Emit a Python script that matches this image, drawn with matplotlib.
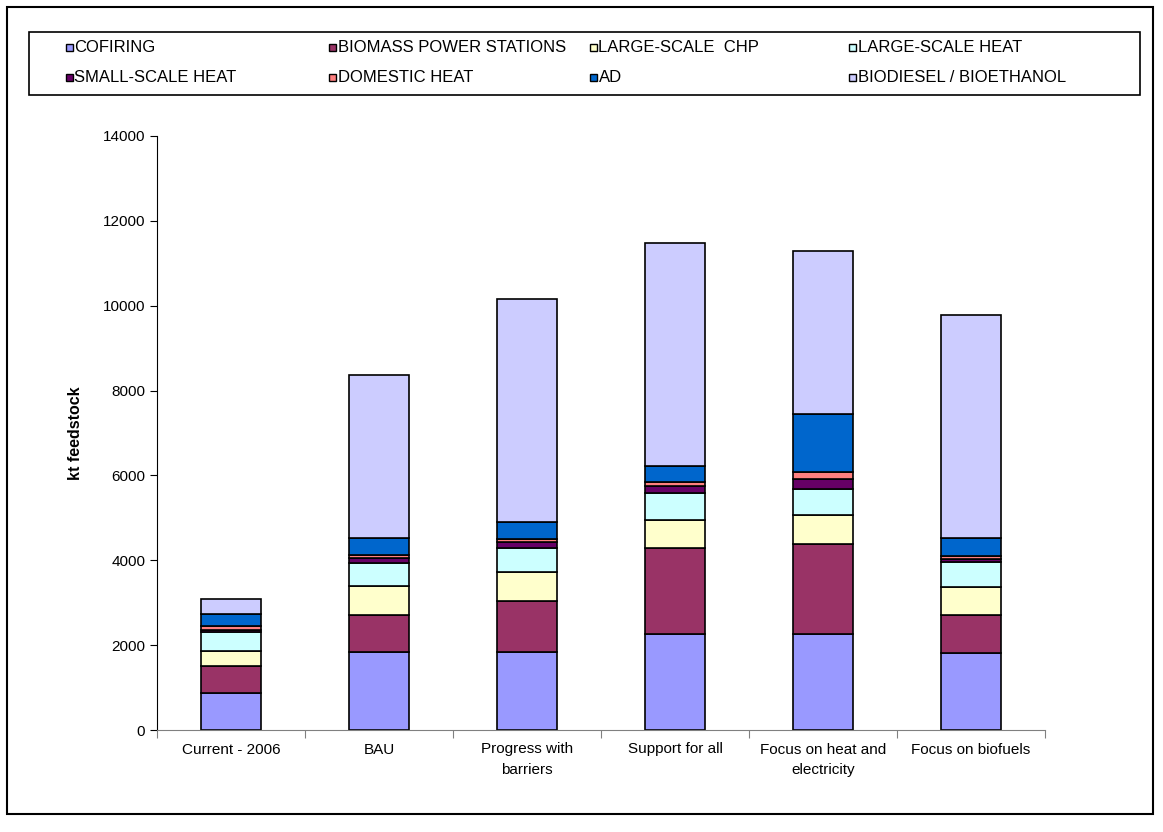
import numpy as np
import matplotlib.pyplot as plt
from matplotlib.patches import Rectangle

plt.rcParams['font.family'] = ['Liberation Sans', 'DejaVu Sans']

# scenarios on the x axis
scenarios = ["Current - 2006", "BAU", "Progress with\nbarriers", "Support for all",
             "Focus on heat and\nelectricity", "Focus on biofuels"]

# kt feedstock per technology, one value per scenario
cofiring = [882, 1827, 1850, 2255, 2255, 1820]
biomass_power = [631, 884, 1200, 2025, 2135, 891]
large_chp = [347, 677, 670, 660, 675, 670]
large_heat = [457, 553, 575, 650, 625, 583]
small_heat = [47, 102, 125, 150, 230, 55]
domestic_heat = [78, 70, 80, 110, 150, 78]
ad = [300, 402, 410, 370, 1375, 418]
biofuels = [348, 3860, 5255, 5255, 3850, 5255]

series_names = ["COFIRING", "BIOMASS POWER STATIONS", "LARGE-SCALE  CHP", "LARGE-SCALE HEAT",
                "SMALL-SCALE HEAT", "DOMESTIC HEAT", "AD", "BIODIESEL / BIOETHANOL"]
series = [cofiring, biomass_power, large_chp, large_heat,
          small_heat, domestic_heat, ad, biofuels]
colors = ["#9999FF", "#993366", "#FFFFCC", "#CCFFFF",
          "#660066", "#FF8080", "#0066CC", "#CCCCFF"]

W, H = 1163, 832
fig = plt.figure(figsize=(W/100, H/100), dpi=100)
ax = fig.add_axes([157/W, 1 - 730/H, (1045-157)/W, (730-136)/H])

x = np.arange(len(scenarios))
bottom = np.zeros(len(scenarios))
for name, vals, col in zip(series_names, series, colors):
    ax.bar(x, vals, width=0.41, bottom=bottom, color=col,
           edgecolor="black", linewidth=1.2, label=name)
    bottom += np.array(vals)

ax.set_xlim(-0.5, len(scenarios) - 0.5)
ax.set_ylim(0, 14000)
ax.set_yticks(np.arange(0, 14001, 2000))
ax.set_xticks(np.arange(len(scenarios) + 1) - 0.5)
ax.set_xticklabels([])
ax.set_xticks(x, minor=True)
ax.set_xticklabels(scenarios, minor=True, fontsize=11, linespacing=1.55)
ax.tick_params(axis="x", which="minor", length=0, pad=9)
ax.tick_params(axis="x", which="major", length=6, direction="out", color="#808080")
ax.tick_params(axis="y", length=5, direction="out", labelsize=11)

for side in ["top", "right"]:
    ax.spines[side].set_visible(False)
ax.spines["bottom"].set_color("#808080")
ax.spines["left"].set_color("black")

ax.set_ylabel("kt feedstock", fontsize=11.5, fontweight="bold", labelpad=14)

# legend drawn by hand: four columns, filled row by row
col_x = [66, 329, 590, 849]
row_y = [47, 77]
for i, (name, col) in enumerate(zip(series_names, colors)):
    px, py = col_x[i % 4], row_y[i // 4]
    fig.patches.append(Rectangle((px/W, 1 - (py + 4)/H), 7/W, 7/H,
                                 transform=fig.transFigure, facecolor=col,
                                 edgecolor="black", linewidth=1))
    fig.text((px + 8.5)/W, 1 - (py + 0.5)/H, name, fontsize=12, va="center", ha="left")

# legend box and chart frame
fig.patches.append(Rectangle((29/W, 1 - 95/H), (1140-29)/W, (95-32)/H,
                             transform=fig.transFigure, fill=False,
                             edgecolor="black", linewidth=1.2))
fig.patches.append(Rectangle((7/W, 1 - 814/H), (1153-7)/W, (814-7)/H,
                             transform=fig.transFigure, fill=False,
                             edgecolor="black", linewidth=1.5))

fig.savefig("out.png", dpi=100)
